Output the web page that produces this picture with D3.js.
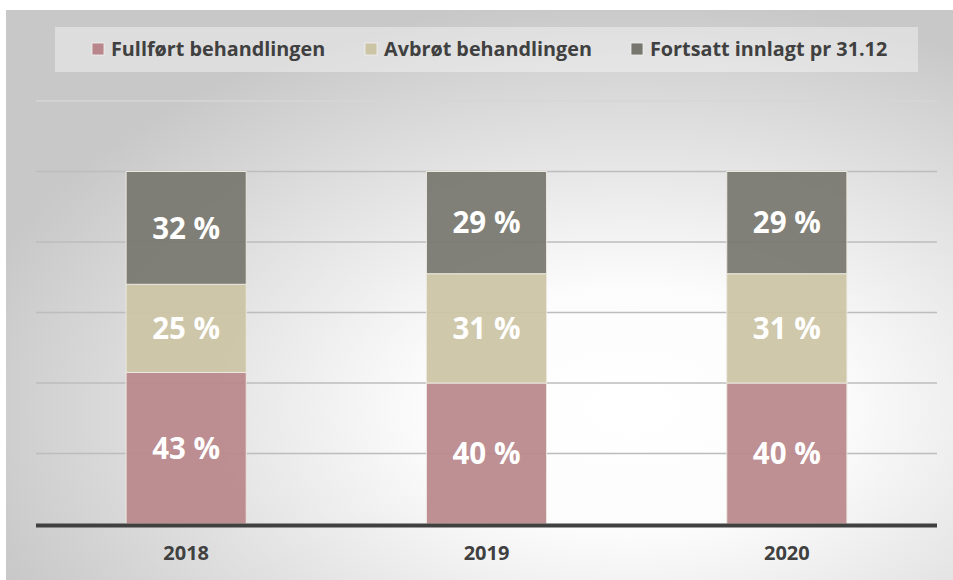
<!DOCTYPE html>
<html>
<head>
<meta charset="utf-8">
<script src="https://cdn.jsdelivr.net/npm/d3@7"></script>
<style>
  body { margin: 0; background: #fff; }
  text { font-family: "Open Sans", "DejaVu Sans", sans-serif; font-weight: bold; }
</style>
</head>
<body>
<div id="chart"></div>
<script>
// chart data
const years = ['2018', '2019', '2020'];
const seriesNames = ['Fullført behandlingen', 'Avbrøt behandlingen', 'Fortsatt innlagt pr 31.12'];
const fullfort = [43, 40, 40];
const avbrot = [25, 31, 31];
const fortsatt = [32, 29, 29];
const gridTicks = [0, 20, 40, 60, 80, 100, 120];
const colors = ['#b9878b', '#cbc4a5', '#77776f'];

const WIDTH = 953;
const HEIGHT = 580;
const PLOT = { left: 36, right: 937, top: 101, bottom: 524 };

const svg = d3.select('#chart')
    .append('svg')
        .attr('width', WIDTH)
        .attr('height', HEIGHT);

// background gradient
const defs = svg.append('defs');
const grad = defs.append('radialGradient')
    .attr('id', 'bg')
    .attr('cx', '66%')
    .attr('cy', '70%')
    .attr('r', '72%');
grad.append('stop').attr('offset', '0%').attr('stop-color', '#ffffff');
grad.append('stop').attr('offset', '30%').attr('stop-color', '#fcfcfc');
grad.append('stop').attr('offset', '100%').attr('stop-color', '#c8c8c8');

svg.append('rect')
    .attr('x', 6)
    .attr('y', 10)
    .attr('width', WIDTH - 6)
    .attr('height', HEIGHT - 10)
    .attr('fill', 'url(#bg)');

const x = d3.scaleBand()
    .domain(years)
    .range([PLOT.left, PLOT.right])
    .paddingInner(0.6)
    .paddingOuter(0.3);

const y = d3.scaleLinear()
    .domain([0, 120])
    .range([PLOT.bottom, PLOT.top]);

// gridlines
svg.append('g')
    .selectAll('line')
    .data(gridTicks.slice(1))
    .join('line')
        .attr('x1', PLOT.left)
        .attr('x2', PLOT.right)
        .attr('y1', d => y(d))
        .attr('y2', d => y(d))
        .attr('stroke', d => d === 120 ? '#d6d6d6' : '#bdbdbd')
        .attr('stroke-width', 1.3);

// stacked bars
const table = years.map((yr, i) => ({
    year: yr,
    [seriesNames[0]]: fullfort[i],
    [seriesNames[1]]: avbrot[i],
    [seriesNames[2]]: fortsatt[i],
}));
const stacked = d3.stack().keys(seriesNames)(table);

const layers = svg.append('g')
    .selectAll('g')
    .data(stacked)
    .join('g')
        .attr('fill', (d, i) => colors[i]);

layers.selectAll('rect')
    .data(d => d)
    .join('rect')
        .attr('x', d => x(d.data.year))
        .attr('y', d => y(d[1]))
        .attr('width', x.bandwidth())
        .attr('height', d => y(d[0]) - y(d[1]))
        .attr('fill-opacity', 0.93)
        .attr('stroke', '#ece8e0')
        .attr('stroke-width', 1);

layers.selectAll('text')
    .data(d => d)
    .join('text')
        .text(d => (d[1] - d[0]) + ' %')
        .attr('x', d => x(d.data.year) + x.bandwidth() / 2)
        .attr('y', d => (y(d[0]) + y(d[1])) / 2)
        .attr('dy', '0.36em')
        .attr('text-anchor', 'middle')
        .attr('fill', '#ffffff')
        .attr('font-size', 29.5);

// baseline
svg.append('line')
    .attr('x1', PLOT.left)
    .attr('x2', PLOT.right)
    .attr('y1', y(0) + 1.5)
    .attr('y2', y(0) + 1.5)
    .attr('stroke', '#404040')
    .attr('stroke-width', 4);

// year labels
svg.append('g')
    .selectAll('text')
    .data(years)
    .join('text')
        .text(d => d)
        .attr('x', d => x(d) + x.bandwidth() / 2)
        .attr('y', 560)
        .attr('text-anchor', 'middle')
        .attr('fill', '#404040')
        .attr('font-size', 20);

// legend
svg.append('rect')
    .attr('x', 55)
    .attr('y', 27)
    .attr('width', 863)
    .attr('height', 45)
    .attr('fill', '#ffffff')
    .attr('fill-opacity', 0.38);

const legendX = [92, 365, 631];
const legend = svg.append('g')
    .selectAll('g')
    .data(seriesNames)
    .join('g')
        .attr('transform', (d, i) => 'translate(' + legendX[i] + ',43)');

legend.append('rect')
    .attr('width', 12)
    .attr('height', 12)
    .attr('fill', (d, i) => colors[i])
    .attr('stroke', '#f2f2f2')
    .attr('stroke-width', 0.8);

legend.append('text')
    .text(d => d)
    .attr('x', 19)
    .attr('y', 6)
    .attr('dy', '0.36em')
    .attr('fill', '#404040')
    .attr('font-size', 19.8);
</script>
</body>
</html>
